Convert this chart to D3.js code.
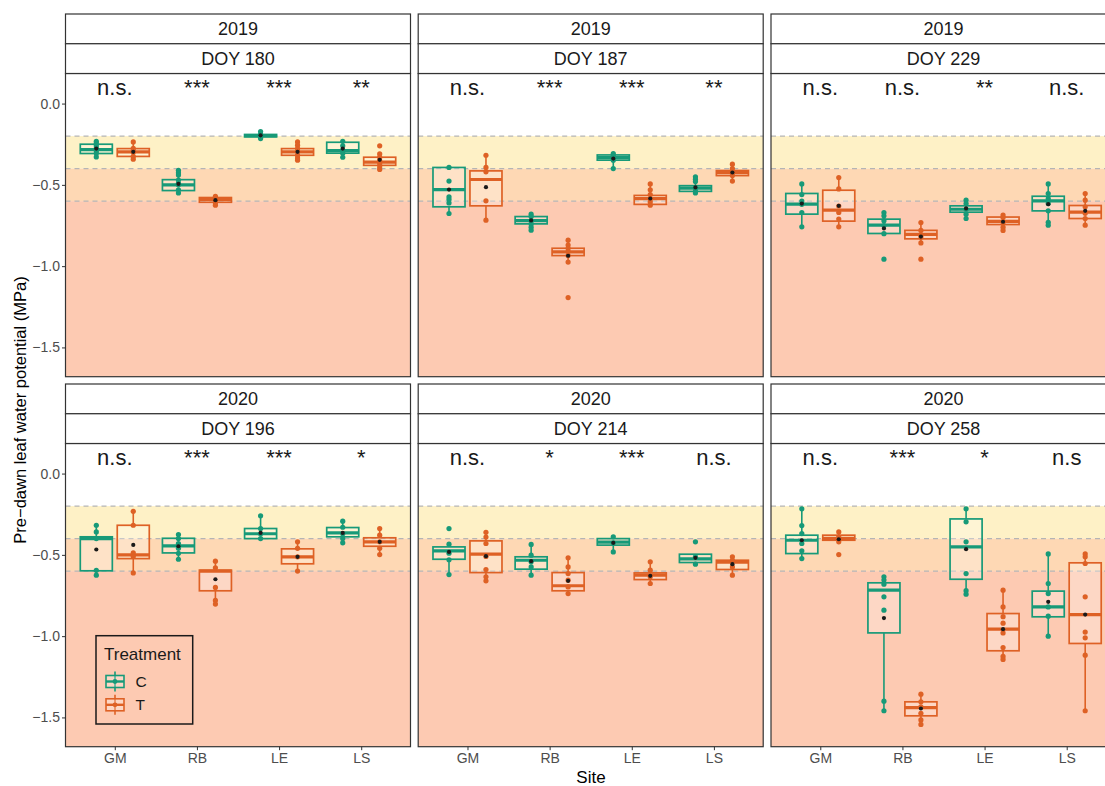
<!DOCTYPE html>
<html><head><meta charset="utf-8">
<script src="https://cdn.jsdelivr.net/npm/d3@7"></script>
<style>
body{margin:0;background:#fff;}
svg{display:block;font-family:"Liberation Sans",Arial,Helvetica,sans-serif;}
</style>
</head><body>
<svg id="chart" width="1105" height="786"></svg>
<script>
// ---------- DATA ----------
const years = ["2019","2019","2019","2020","2020","2020"];
const doys  = ["DOY 180","DOY 187","DOY 229","DOY 196","DOY 214","DOY 258"];
const sites = ["GM","RB","LE","LS"];
const treatments = ["C","T"];
const yTicks = [0, -0.5, -1.0, -1.5];
const thresholds = [-0.2, -0.4, -0.6];

const sig180 = ["n.s.","***","***","**"];
const sig187 = ["n.s.","***","***","**"];
const sig229 = ["n.s.","n.s.","**","n.s."];
const sig196 = ["n.s.","***","***","*"];
const sig214 = ["n.s.","*","***","n.s."];
const sig258 = ["n.s.","***","*","n.s"];

// box stats per panel, order: GM-C, GM-T, RB-C, RB-T, LE-C, LE-T, LS-C, LS-T ; [min, q1, median, q3, max]
const box180 = [[-0.328,-0.307,-0.283,-0.250,-0.232],[-0.342,-0.325,-0.297,-0.277,-0.236],
                [-0.55,-0.535,-0.50,-0.468,-0.41],[-0.625,-0.607,-0.59,-0.578,-0.57],
                [-0.215,-0.205,-0.197,-0.19,-0.172],[-0.348,-0.318,-0.297,-0.277,-0.236],
                [-0.33,-0.305,-0.29,-0.238,-0.232],[-0.405,-0.38,-0.36,-0.33,-0.31]];
const mean180 = [-0.277,-0.297,-0.494,-0.594,-0.195,-0.297,-0.277,-0.346];
const pts180 = [[-0.232,-0.245,-0.26,-0.275,-0.29,-0.305,-0.328],[-0.236,-0.275,-0.29,-0.30,-0.325,-0.342],
                [-0.41,-0.425,-0.44,-0.47,-0.49,-0.50,-0.53,-0.55],[-0.57,-0.58,-0.594,-0.61,-0.625],
                [-0.172,-0.19,-0.197,-0.205,-0.215],[-0.236,-0.256,-0.277,-0.297,-0.318,-0.335,-0.348],
                [-0.232,-0.26,-0.29,-0.305,-0.33],[-0.26,-0.31,-0.33,-0.35,-0.37,-0.39,-0.405]];

const box187 = [[-0.676,-0.635,-0.529,-0.393,-0.393],[-0.717,-0.629,-0.467,-0.414,-0.318],
                [-0.779,-0.74,-0.72,-0.695,-0.68],[-0.975,-0.935,-0.912,-0.89,-0.84],
                [-0.40,-0.348,-0.332,-0.316,-0.307],[-0.625,-0.62,-0.585,-0.565,-0.494],
                [-0.55,-0.54,-0.52,-0.505,-0.45],[-0.477,-0.443,-0.425,-0.412,-0.373]];
const mean187 = [-0.529,-0.514,-0.719,-0.936,-0.338,-0.584,-0.516,-0.424];
const pts187 = [[-0.393,-0.477,-0.574,-0.59,-0.611,-0.676],[-0.318,-0.393,-0.42,-0.598,-0.717],
                [-0.68,-0.695,-0.72,-0.74,-0.76,-0.779],[-0.84,-0.87,-0.89,-0.91,-0.935,-0.975,-1.193],
                [-0.307,-0.32,-0.335,-0.348,-0.40],[-0.494,-0.53,-0.56,-0.585,-0.605,-0.625],
                [-0.45,-0.465,-0.48,-0.52,-0.54,-0.55],[-0.373,-0.40,-0.425,-0.443,-0.477]];

const box229 = [[-0.758,-0.68,-0.619,-0.553,-0.494],[-0.758,-0.723,-0.656,-0.533,-0.455],
                [-0.80,-0.799,-0.748,-0.711,-0.67],[-0.857,-0.832,-0.805,-0.78,-0.732],
                [-0.707,-0.668,-0.65,-0.629,-0.594],[-0.78,-0.744,-0.725,-0.698,-0.686],
                [-0.748,-0.66,-0.598,-0.57,-0.494],[-0.748,-0.707,-0.668,-0.627,-0.553]];
const mean229 = [-0.615,-0.629,-0.768,-0.818,-0.645,-0.727,-0.619,-0.66];
const pts229 = [[-0.494,-0.56,-0.6,-0.62,-0.67,-0.758],[-0.455,-0.525,-0.63,-0.67,-0.71,-0.758],
                [-0.67,-0.69,-0.72,-0.75,-0.80,-0.957],[-0.732,-0.78,-0.82,-0.857,-0.957],
                [-0.594,-0.615,-0.65,-0.68,-0.707],[-0.686,-0.7,-0.73,-0.76,-0.78],
                [-0.494,-0.553,-0.585,-0.615,-0.66,-0.73,-0.748],[-0.553,-0.594,-0.635,-0.675,-0.707,-0.748]];

const box196 = [[-0.625,-0.598,-0.40,-0.389,-0.318],[-0.611,-0.523,-0.50,-0.318,-0.232],
                [-0.527,-0.488,-0.445,-0.398,-0.375],[-0.803,-0.721,-0.60,-0.594,-0.539],
                [-0.404,-0.40,-0.37,-0.338,-0.26],[-0.60,-0.555,-0.512,-0.463,-0.42],
                [-0.426,-0.389,-0.365,-0.332,-0.293],[-0.498,-0.447,-0.42,-0.395,-0.338]];
const mean196 = [-0.467,-0.439,-0.447,-0.65,-0.365,-0.512,-0.365,-0.42];
const pts196 = [[-0.318,-0.359,-0.40,-0.595,-0.625],[-0.232,-0.318,-0.487,-0.51,-0.611],
                [-0.375,-0.40,-0.43,-0.46,-0.49,-0.527],[-0.539,-0.58,-0.70,-0.78,-0.803],
                [-0.26,-0.338,-0.37,-0.40],[-0.42,-0.46,-0.512,-0.60],
                [-0.293,-0.33,-0.37,-0.40,-0.426],[-0.338,-0.379,-0.42,-0.46,-0.498]];

const box214 = [[-0.621,-0.527,-0.475,-0.451,-0.434],[-0.66,-0.609,-0.496,-0.414,-0.361],
                [-0.625,-0.588,-0.533,-0.512,-0.436],[-0.738,-0.721,-0.69,-0.609,-0.518],
                [-0.482,-0.44,-0.422,-0.40,-0.389],[-0.676,-0.652,-0.625,-0.611,-0.543],
                [-0.557,-0.547,-0.525,-0.496,-0.496],[-0.625,-0.59,-0.545,-0.533,-0.512]];
const mean214 = [-0.482,-0.508,-0.539,-0.66,-0.426,-0.629,-0.518,-0.557];
const pts214 = [[-0.338,-0.434,-0.49,-0.53,-0.621],[-0.361,-0.39,-0.43,-0.51,-0.59,-0.635,-0.66],
                [-0.436,-0.502,-0.543,-0.574,-0.625],[-0.518,-0.574,-0.615,-0.656,-0.697,-0.738],
                [-0.389,-0.426,-0.482],[-0.543,-0.594,-0.635,-0.676],
                [-0.42,-0.512,-0.557],[-0.512,-0.533,-0.574,-0.625]];

const box258 = [[-0.523,-0.492,-0.41,-0.379,-0.217],[-0.42,-0.41,-0.398,-0.379,-0.359],
                [-1.459,-0.98,-0.717,-0.672,-0.635],[-1.543,-1.49,-1.44,-1.404,-1.357],
                [-0.742,-0.65,-0.451,-0.279,-0.217],[-1.143,-1.09,-0.957,-0.861,-0.717],
                [-1.0,-0.881,-0.82,-0.723,-0.494],[-1.459,-1.045,-0.867,-0.549,-0.494]];
const mean258 = [-0.41,-0.404,-0.889,-1.445,-0.465,-0.957,-0.789,-0.867];
const pts258 = [[-0.217,-0.32,-0.369,-0.43,-0.475,-0.523],[-0.359,-0.39,-0.42,-0.498],
                [-0.635,-0.655,-0.68,-0.758,-0.84,-1.40,-1.459],[-1.357,-1.404,-1.435,-1.475,-1.515,-1.543],
                [-0.217,-0.297,-0.42,-0.615,-0.72,-0.742],[-0.717,-0.82,-0.88,-0.92,-0.98,-1.07,-1.125,-1.143],
                [-0.494,-0.676,-0.738,-0.82,-0.877,-1.0],[-0.494,-0.512,-0.553,-0.758,-0.975,-1.01,-1.117,-1.459]];

// ---------- LAYOUT / STYLE ----------
const colors = {C:"#179A78", T:"#DE6125"};
const bandColors = ["#FEF1C6","#FED8B4","#FDCAB2"];
const panels = [
  {box:box180, mean:mean180, pts:pts180, sig:sig180},
  {box:box187, mean:mean187, pts:pts187, sig:sig187},
  {box:box229, mean:mean229, pts:pts229, sig:sig229},
  {box:box196, mean:mean196, pts:pts196, sig:sig196},
  {box:box214, mean:mean214, pts:pts214, sig:sig214},
  {box:box258, mean:mean258, pts:pts258, sig:sig258}
];
const colX = [65.5, 418.2, 771], rowY = [14, 384];
const PW = 345, stripH = 29.75, plotH = 303.2;
const svg = d3.select("#chart");
const textCol = "#1A1A1A", tickCol = "#4D4D4D", borderCol = "#333333";
const boxFill = "rgba(255,255,255,0.25)";

panels.forEach((p, i) => {
  const col = i % 3, row = Math.floor(i / 3);
  const x0 = colX[col], top = rowY[row] + 2 * stripH, bottom = top + plotH;
  const x = d3.scalePoint().domain(sites).range([x0, x0 + PW]).padding(0.6);
  const y = d3.scaleLinear().domain([-1.68, 0.185]).range([bottom, top]);
  const step = x.step();
  const g = svg.append("g");

  // bands
  const bandEdges = [thresholds[0], thresholds[1], thresholds[2], -1.68];
  bandColors.forEach((c, k) => {
    g.append("rect").attr("x", x0).attr("width", PW)
      .attr("y", y(bandEdges[k])).attr("height", y(bandEdges[k+1]) - y(bandEdges[k]))
      .attr("fill", c);
  });
  thresholds.forEach(t => {
    g.append("line").attr("x1", x0).attr("x2", x0 + PW).attr("y1", y(t)).attr("y2", y(t))
      .attr("stroke", "#B5B5B5").attr("stroke-width", 1.3).attr("stroke-dasharray", "5,4");
  });

  // boxes
  sites.forEach((s, si) => {
    treatments.forEach((tr, ti) => {
      const k = si * 2 + ti;
      const [mn, q1, md, q3, mx] = p.box[k];
      const cx = x(s) + (ti === 0 ? -1 : 1) * 0.225 * step;
      const bw = 0.39 * step;
      const c = colors[tr];
      const bg = g.append("g");
      bg.append("line").attr("x1", cx).attr("x2", cx).attr("y1", y(mx)).attr("y2", y(q3))
        .attr("stroke", c).attr("stroke-width", 1.6);
      bg.append("line").attr("x1", cx).attr("x2", cx).attr("y1", y(q1)).attr("y2", y(mn))
        .attr("stroke", c).attr("stroke-width", 1.6);
      bg.append("rect").attr("x", cx - bw/2).attr("width", bw)
        .attr("y", y(q3)).attr("height", Math.max(0.1, y(q1) - y(q3)))
        .attr("fill", boxFill).attr("stroke", c).attr("stroke-width", 1.7);
      bg.append("line").attr("x1", cx - bw/2).attr("x2", cx + bw/2).attr("y1", y(md)).attr("y2", y(md))
        .attr("stroke", c).attr("stroke-width", 3.2);
      bg.selectAll("circle.pt").data(p.pts[k]).join("circle").attr("class","pt")
        .attr("cx", cx).attr("cy", d => y(d)).attr("r", 2.6).attr("fill", c);
      bg.append("circle").attr("cx", cx).attr("cy", y(p.mean[k])).attr("r", 2.1).attr("fill", "#1A1A1A");
    });
    g.append("text").attr("x", x(s)).attr("y", top + 21.5).attr("text-anchor", "middle")
      .attr("font-size", 22).attr("fill", textCol).text(p.sig[si]);
  });

  // border
  g.append("rect").attr("x", x0).attr("y", top).attr("width", PW).attr("height", plotH)
    .attr("fill", "none").attr("stroke", borderCol).attr("stroke-width", 1.2);

  // strips
  [years[i], doys[i]].forEach((lab, k) => {
    const sy = rowY[row] + k * stripH;
    g.append("rect").attr("x", x0).attr("y", sy).attr("width", PW).attr("height", stripH)
      .attr("fill", "#fff").attr("stroke", borderCol).attr("stroke-width", 1.2);
    g.append("text").attr("x", x0 + PW/2).attr("y", sy + stripH/2 + 6.3)
      .attr("text-anchor", "middle").attr("font-size", 18).attr("fill", textCol).text(lab);
  });

  // axes
  if (col === 0) {
    const ax = g.append("g").attr("transform", `translate(${x0},0)`)
      .call(d3.axisLeft(y).tickValues(yTicks).tickSize(3.5).tickPadding(2).tickFormat(d3.format(".1f")));
    ax.attr("font-size", 14).attr("font-family", null);
    ax.select(".domain").remove();
    ax.selectAll("line").attr("stroke", borderCol);
    ax.selectAll("text").attr("fill", tickCol);
  }
  if (row === 1) {
    const ax = g.append("g").attr("transform", `translate(0,${bottom})`)
      .call(d3.axisBottom(x).tickSize(3.5).tickPadding(3));
    ax.attr("font-size", 14).attr("font-family", null);
    ax.select(".domain").remove();
    ax.selectAll("line").attr("stroke", borderCol);
    ax.selectAll("text").attr("fill", tickCol);
  }

  // legend in the first 2020 panel
  if (i === 3) {
    const lg = g.append("g");
    lg.append("rect").attr("x", 96).attr("y", 635.7).attr("width", 96.7).attr("height", 88.3)
      .attr("fill", "none").attr("stroke", textCol).attr("stroke-width", 1.5);
    lg.append("text").attr("x", 104).attr("y", 659.5).attr("font-size", 17).attr("fill", textCol).text("Treatment");
    treatments.forEach((tr, k) => {
      const ky = 681.5 + k * 23.3, kx = 115, c = colors[tr];
      lg.append("line").attr("x1", kx).attr("x2", kx).attr("y1", ky - 10).attr("y2", ky + 10)
        .attr("stroke", c).attr("stroke-width", 1.6);
      lg.append("rect").attr("x", kx - 9).attr("y", ky - 6).attr("width", 18).attr("height", 12)
        .attr("fill", boxFill).attr("stroke", c).attr("stroke-width", 1.6);
      lg.append("line").attr("x1", kx - 9).attr("x2", kx + 9).attr("y1", ky).attr("y2", ky)
        .attr("stroke", c).attr("stroke-width", 2.4);
      lg.append("circle").attr("cx", kx).attr("cy", ky).attr("r", 2.4).attr("fill", c);
      lg.append("text").attr("x", 135.5).attr("y", ky + 5.5).attr("font-size", 15.5).attr("fill", textCol).text(tr);
    });
  }
});

// axis titles
svg.append("text").attr("x", 591).attr("y", 783).attr("text-anchor", "middle")
  .attr("font-size", 17).attr("fill", "#000").text("Site");
svg.append("text").attr("transform", "translate(26,410) rotate(-90)").attr("text-anchor", "middle")
  .attr("font-size", 16.5).attr("fill", "#000").text("Pre\u2212dawn leaf water potential (MPa)");
</script>
</body></html>
